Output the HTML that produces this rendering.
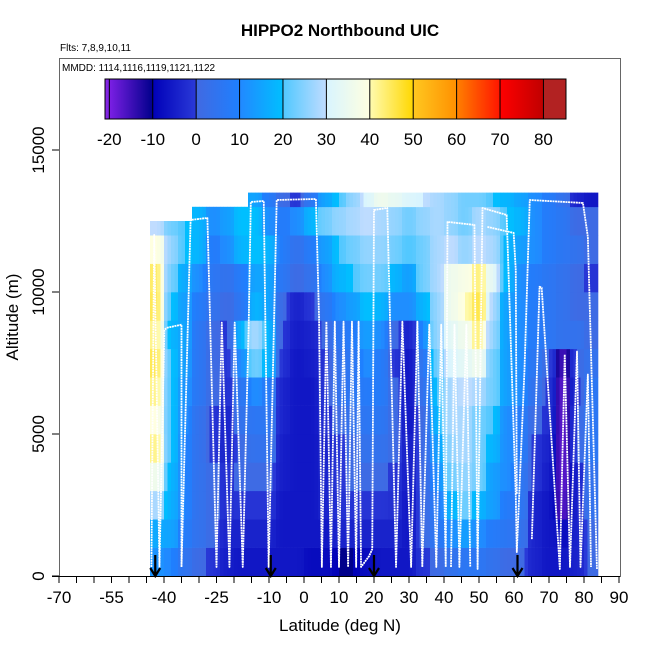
<!DOCTYPE html>
<html><head><meta charset="utf-8"><style>
body{margin:0;background:#fff}
svg text{font-family:"Liberation Sans",sans-serif}
</style></head><body>
<svg id="chart" width="650" height="650" xmlns="http://www.w3.org/2000/svg">
<text x="340" y="36" text-anchor="middle" font-size="17" font-weight="bold">HIPPO2 Northbound UIC</text>
<text x="60" y="51" font-size="10">Flts: 7,8,9,10,11</text>
<g id="heat"></g>
<g id="tracks"></g>
<g id="arrows"></g>
<rect x="59.5" y="58.5" width="561" height="518" fill="none" stroke="#666" stroke-width="1"/>
<text x="62" y="71" font-size="10">MMDD: 1114,1116,1119,1121,1122</text>
<defs><linearGradient id="cbg" x1="0" x2="1" y1="0" y2="0"></linearGradient></defs>
<g id="colorbar"></g>
<g id="axes"></g>
<text x="340" y="631" text-anchor="middle" font-size="17">Latitude (deg N)</text>
<text transform="translate(18,317) rotate(-90)" text-anchor="middle" font-size="17">Altitude (m)</text>
</svg>
<script>
const latBins=[-44,-40,-36,-32,-28,-24,-20,-16,-12,-8,-4,0,4,8,12,16,20,24,28,32,36,40,44,48,52,56,60,64,68,72,76,80];
const colTops=[12500,12500,12500,13000,13000,13000,13000,13500,13500,13500,13500,13500,13500,13500,13500,13500,13500,13500,13500,13500,13500,13500,13500,13500,13500,13500,13500,13500,13500,13500,13500,13500];
// rows from altitude 0 upward, 1000 m bins
const grid=[
[12,10,5,1,-1,-5,-6,-6,-6,-6,-6,-8,-8,-10,-10,-8,-6,-6,-6,-1,1,4,6,6,4,1,1,-4,-6,-6,-4,1],
[16,15,8,4,1,-4,-4,-4,-4,-6,-6,-6,-6,-4,-4,-4,-4,-4,-6,1,6,11,14,11,8,6,4,-4,-6,-8,-4,1],
[28,17,10,4,1,-2,-1,-1,-1,-6,-6,-6,-4,-2,-1,-1,-1,-2,-6,1,8,18,23,18,14,8,6,-4,-6,-17,-4,4],
[36,18,10,4,1,-2,1,1,1,-5,-6,-6,-4,-1,1,1,1,-1,-5,1,11,23,26,23,14,11,6,-1,-5,-18,-4,4],
[42,20,10,4,-1,-4,1,4,4,-5,-6,-6,-4,-1,1,4,4,1,-5,1,14,26,28,23,18,11,8,-1,-4,-18,1,6],
[40,20,11,4,-1,-4,4,6,6,-4,-6,-6,-2,1,4,6,6,1,-6,1,18,28,28,23,20,11,8,1,-2,-18,1,6],
[42,20,12,6,1,-2,6,11,8,-4,-6,-6,-1,4,6,8,8,1,-6,4,20,28,30,28,23,14,11,4,-1,-18,-1,6],
[45,20,14,6,1,-1,11,23,18,-2,-6,-5,-1,4,6,11,8,-1,-6,6,23,31,33,36,23,14,11,6,1,-16,1,4],
[42,18,15,6,1,-1,18,28,18,-1,-5,-4,1,6,8,14,11,1,-4,11,26,33,36,43,26,14,11,8,6,4,4,1],
[45,20,14,8,4,1,6,18,15,1,-4,-1,6,11,14,20,18,11,11,18,26,36,40,46,28,14,11,8,6,4,1,1],
[44,23,16,11,6,4,8,15,15,6,1,4,11,18,20,23,23,18,14,23,28,36,38,43,33,18,11,8,6,4,1,-1],
[40,26,20,18,8,11,18,20,18,8,4,8,14,20,23,26,26,23,20,23,28,30,26,30,28,18,14,11,8,6,4,1],
[30,23,20,18,11,14,20,20,11,8,11,18,23,26,28,30,28,26,23,26,28,26,23,28,26,20,18,11,8,6,1,1],
[0,0,0,0,0,0,0,15,8,1,-1,6,15,20,26,31,36,34,31,30,28,26,23,23,20,18,15,11,8,4,-4,-6]
];
const cbTicks=[-20,-10,0,10,20,30,40,50,60,70,80];
const xTickLabels=[-70,-55,-40,-25,-10,0,10,20,30,40,50,60,70,80,90];
const yTickLabels=[0,5000,10000,15000];
const arrowLats=[-42.5,-9.5,20,61];
const tracks=[
[[-43.6,316],[-42.8,12011],[-41.3,316],[-39.9,8675],[-39.0,8745],[-35.0,8850],[-35.0,316],[-32.4,12538],[-27.6,12608],[-25.0,316],[-23.5,8920],[-21.3,316],[-19.8,8920],[-17.5,316],[-15.8,8850],[-15.2,13170],[-11.5,13205],[-10.1,316],[-7.8,13240],[3.4,13275],[4.3,9096],[5.1,316],[6.4,8956],[7.7,316],[8.8,8956],[10.0,316],[11.3,8956],[12.6,316],[13.7,8956],[14.9,316],[15.6,8956],[16.3,316],[18.6,700],[19.5,948],[20.0,12889],[23.8,12959],[26.3,316],[28.1,8956],[30.6,316],[32.4,8956],[33.8,316],[35.8,8850],[37.8,316],[39.2,8850],[40.5,316],[41.0,12468],[48.7,12362],[49.6,246],[51.0,12959],[57.9,12713],[60.5,2880],[60.8,843],[63.0,7270],[64.5,13240],[79.7,13135],[81.1,11941],[83.7,246]],
[[-44.3,2000],[-44.3,316]],
[[52.4,12292],[59.9,12081],[60.5,10782],[60.8,2880]],
[[42.0,316],[43.0,8850],[44.4,316],[46.4,8850],[47.5,316]],
[[65.1,1299],[67.3,10185],[67.9,10150],[73.1,246],[74.5,7797],[76.0,316],[78.0,7902],[79.0,316],[81.1,7094],[82.0,316]]
];
const NS='http://www.w3.org/2000/svg';
const X=l=>59+(l+70)*3.5;
const Y=a=>576-a*426/15000;
const stops=[[-21,'#8a2be2'],[-20,'#7b1fe4'],[-10,'#00008b'],[-10,'#0000b8'],[0,'#2a3ad8'],[0,'#4169e1'],[10,'#1e80ff'],[10,'#2288ff'],[20,'#00bfff'],[20,'#50c8ff'],[30,'#c0dcff'],[30,'#d8f4ff'],[40,'#ffffe0'],[40,'#fffbb0'],[50,'#ffd700'],[50,'#ffc820'],[60,'#ff9000'],[60,'#ff8000'],[70,'#ff1500'],[70,'#ff0000'],[80,'#c00000'],[80,'#b22222'],[85.2,'#b22222']];
function hex(h){return [1,3,5].map(i=>parseInt(h.substr(i,2),16));}
function col(v){
 for(let i=0;i<stops.length-1;i++){const a=stops[i],b=stops[i+1];
  if(v>=a[0]&&v<=b[0]&&b[0]>a[0]){const t=(v-a[0])/(b[0]-a[0]);const c1=hex(a[1]),c2=hex(b[1]);
   return 'rgb('+c1.map((c,k)=>Math.round(c+(c2[k]-c)*t)).join(',')+')';}}
 return v<-21?stops[0][1]:'#b22222';
}
function mk(tag,attrs,parent){const e=document.createElementNS(NS,tag);for(const k in attrs)e.setAttribute(k,attrs[k]);parent.appendChild(e);return e;}
const heat=document.getElementById('heat');
grid.forEach((row,r)=>{row.forEach((v,c)=>{
 const a0=r*1000,a1=Math.min((r+1)*1000,colTops[c]);if(a1<=a0)return;
 const l0=latBins[c];
 for(let s=0;s<4;s++){
  const off=(s+0.5)/4-0.5;
  let nb=off<0?c-1:c+1;
  let nv=(nb>=0&&nb<row.length&&Math.min((r+1)*1000,colTops[nb])>a0)?row[nb]:v;
  const w=Math.abs(off)*0.6;
  const vv=v*(1-w)+nv*w;
  const e=mk('rect',{x:X(l0+s),y:Y(a1),width:3.5+0.3,height:Y(a0)-Y(a1)+0.3,fill:col(vv)},heat);
  
  
 }
});});
const tg=document.getElementById('tracks');
tracks.forEach(t=>{
 const e=mk('polyline',{points:t.map(p=>X(p[0])+','+Y(p[1])).join(' '),fill:'none',stroke:'#fff','stroke-width':1.8,'stroke-dasharray':'2,0.6','stroke-linejoin':'round'},tg);
 
 
});
const ag=document.getElementById('arrows');
arrowLats.forEach(l=>{
 const x=X(l);
 const e=mk('path',{d:`M${x},555 L${x},575 M${x-5},568 L${x},576 L${x+5},568`,stroke:'#000','stroke-width':2.2,fill:'none'},ag);
 
 
});
const grad=document.getElementById('cbg');
const cbMin=-21,cbMax=85.2;
stops.forEach(s=>{mk('stop',{offset:((s[0]-cbMin)/(cbMax-cbMin)).toFixed(4),'stop-color':s[1]},grad);});
const cb=document.getElementById('colorbar');
const CX=v=>105+(v-cbMin)*(566-105)/(cbMax-cbMin);
const cbr=mk('rect',{x:105,y:79,width:461,height:40,fill:'url(#cbg)',stroke:'#000','stroke-width':1},cb);


cbTicks.forEach(v=>{
 const l=mk('line',{x1:CX(v),x2:CX(v),y1:79,y2:119,stroke:'#000','stroke-width':1},cb);
 
 
 const t=mk('text',{x:CX(v),y:145,'text-anchor':'middle','font-size':17},cb);t.textContent=v;
 
 
});
const ax=document.getElementById('axes');
const xl=mk('line',{x1:52,x2:620,y1:576.5,y2:576.5,stroke:'#000','stroke-width':1},ax);


for(let l=-70;l<=90;l+=5){
 const tk=mk('line',{x1:X(l),x2:X(l),y1:576,y2:583,stroke:'#000','stroke-width':1},ax);
 
 
}
xTickLabels.forEach(v=>{
 const t=mk('text',{x:X(v),y:603,'text-anchor':'middle','font-size':17},ax);t.textContent=v;
 
 
});
yTickLabels.forEach(v=>{
 const tk=mk('line',{x1:52,x2:59,y1:Y(v),y2:Y(v),stroke:'#000','stroke-width':1},ax);
 
 
 const t=mk('text',{transform:`translate(44,${Y(v)}) rotate(-90)`,'text-anchor':'middle','font-size':17},ax);t.textContent=v;
 
 
});
</script>
</body></html>
